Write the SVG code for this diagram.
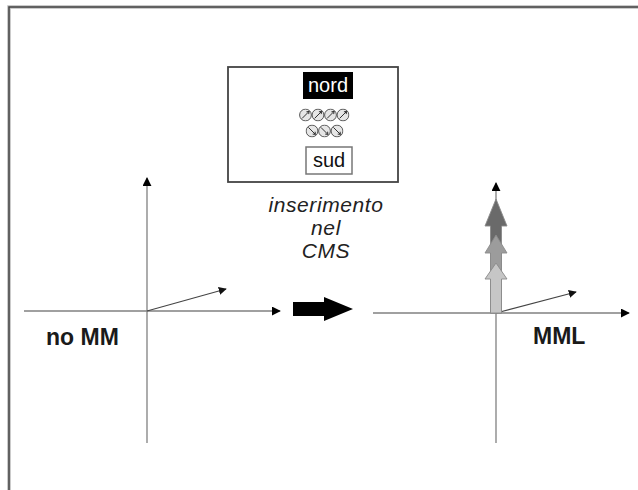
<svg xmlns="http://www.w3.org/2000/svg" width="638" height="490" viewBox="0 0 638 490">
<style>
.axis{stroke:#808080;stroke-width:1.3;fill:none}
.vec{stroke:#444;stroke-width:1.1;fill:none}
.lbl{font-family:"Liberation Sans",Arial,sans-serif;font-weight:bold;font-size:23px;fill:#1a1a1a}
.it{font-family:"Liberation Sans",Arial,sans-serif;font-style:italic;font-size:21px;letter-spacing:0.6px;fill:#222;text-anchor:middle}
.bx{font-family:"Liberation Sans",Arial,sans-serif;font-size:20px;text-anchor:middle}
.spin{fill:#e6e6e6;stroke:#555;stroke-width:1}
.stk{stroke:#8a8a8a;stroke-width:0.9}
</style>
<defs>
<marker id="ah" viewBox="0 0 10 10" refX="9" refY="5" markerWidth="9" markerHeight="9" markerUnits="userSpaceOnUse" orient="auto">
<path d="M0,0 L10,5 L0,10 z" fill="#000"/>
</marker>
<marker id="ahs" viewBox="0 0 10 10" refX="9" refY="5" markerWidth="8" markerHeight="8" markerUnits="userSpaceOnUse" orient="auto">
<path d="M0,0 L10,5 L0,10 z" fill="#111"/>
</marker>
<symbol id="spinUp" viewBox="-6.5 -6.5 13 13">
<circle r="5.9" class="spin"/>
<path d="M-3.4,3.4 L3.6,-3.6 M3.6,-3.6 L0.9,-3.2 M3.6,-3.6 L3.2,-0.9" stroke="#333" stroke-width="1" fill="none"/>
</symbol>
<symbol id="spinDn" viewBox="-6.5 -6.5 13 13">
<circle r="5.9" class="spin"/>
<path d="M-3.6,-3.6 L3.4,3.4 M3.4,3.4 L0.7,3.1 M3.4,3.4 L3.1,0.7" stroke="#333" stroke-width="1" fill="none"/>
</symbol>
</defs>
<rect width="638" height="490" fill="#fff"/>
<g id="frame">
<path d="M9,490 V7 H638" fill="none" stroke="#bbb" stroke-width="3.5"/>
<path d="M9,490 V7 H638" fill="none" stroke="#444" stroke-width="1.5"/>
</g>
<g id="cms-box">
<rect x="228" y="67" width="170" height="115" fill="#fff" stroke="#444" stroke-width="1.8"/>
<rect x="303" y="72" width="50" height="27" fill="#000"/>
<text class="bx" x="328" y="92" fill="#fff">nord</text>
<use href="#spinUp" x="299" y="108.5" width="13" height="13"/>
<use href="#spinUp" x="311.5" y="108.5" width="13" height="13"/>
<use href="#spinUp" x="324" y="108.5" width="13" height="13"/>
<use href="#spinUp" x="336.5" y="108.5" width="13" height="13"/>
<use href="#spinDn" x="305.5" y="124.5" width="13" height="13"/>
<use href="#spinDn" x="318" y="124.5" width="13" height="13"/>
<use href="#spinDn" x="330.5" y="124.5" width="13" height="13"/>
<rect x="306" y="147" width="46" height="27" fill="#fff" stroke="#777" stroke-width="1.5"/>
<text class="bx" x="329" y="167" fill="#111">sud</text>
</g>
<g id="caption">
<text class="it" x="326" y="212">inserimento</text>
<text class="it" x="326" y="235">nel</text>
<text class="it" x="326" y="258">CMS</text>
</g>
<g id="connectors">
<line class="axis" x1="147" y1="443" x2="147" y2="178" marker-end="url(#ah)"/>
<line class="axis" x1="24" y1="311" x2="280" y2="311" marker-end="url(#ah)"/>
<line class="vec" x1="147" y1="311" x2="226" y2="289" marker-end="url(#ahs)"/>
<line class="axis" x1="496" y1="443" x2="496" y2="183" marker-end="url(#ah)"/>
<line class="axis" x1="373" y1="313" x2="629" y2="313" marker-end="url(#ah)"/>
<line class="vec" x1="496" y1="313" x2="576" y2="292" marker-end="url(#ahs)"/>
<polygon id="transition-arrow" points="293,302 324,302 324,297 353,309 324,321 324,316 293,316" fill="#000"/>
</g>
<g id="left-axes">
<text class="lbl" x="46" y="345">no MM</text>
</g>
<g id="right-axes">
<polygon class="stk" points="490.5,313 490.5,226 485,226 496,199 507,226 501.5,226 501.5,313" fill="#6a6a6a"/>
<polygon class="stk" points="490.5,313 490.5,253 485,253 496,235 507,253 501.5,253 501.5,313" fill="#9c9c9c"/>
<polygon class="stk" points="490.5,313 490.5,279 485,279 496,263 507,279 501.5,279 501.5,313" fill="#c6c6c6"/>
<text class="lbl" x="533" y="344">MML</text>
</g>
</svg>
